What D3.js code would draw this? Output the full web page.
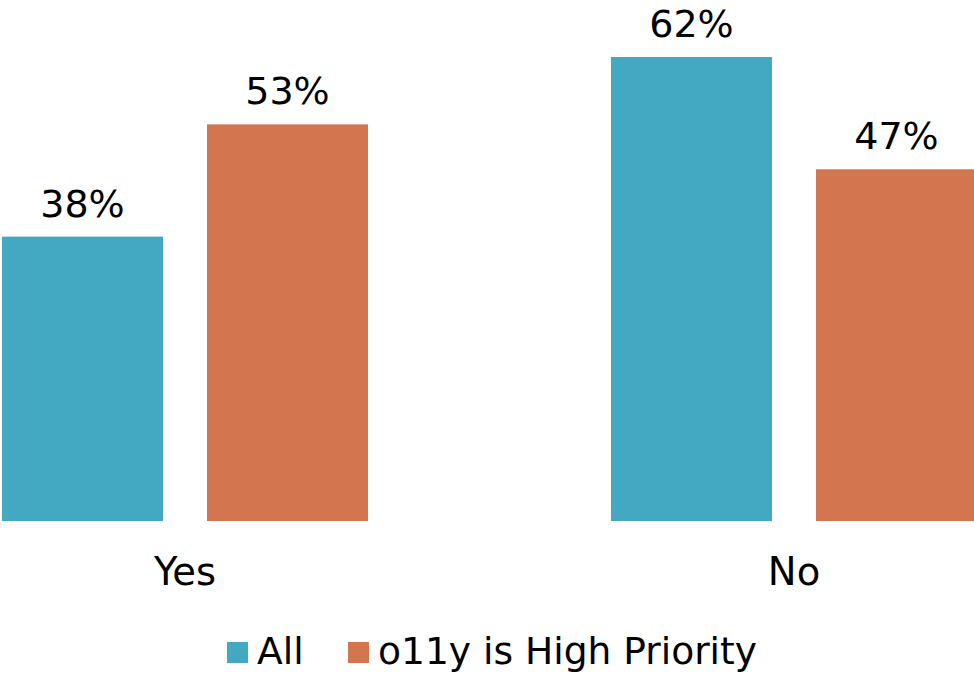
<!DOCTYPE html>
<html>
<head>
<meta charset="utf-8">
<script src="https://cdn.jsdelivr.net/npm/d3@7"></script>
<style>
  html, body { margin: 0; padding: 0; background: #fff; }
  svg { display: block; font-family: "DejaVu Sans", Verdana, sans-serif; }
</style>
</head>
<body>
<svg id="chart" width="974" height="674"></svg>
<script>
// Survey answers, grouped by response
const categories = ["Yes", "No"];
const seriesNames = ["All", "o11y is High Priority"];
const allValues = [38, 62];
const highPriorityValues = [53, 47];
const seriesColors = ["#43a8c2", "#d3754f"];

const rows = categories.map((c, i) => ({
  category: c,
  values: [
    { series: seriesNames[0], value: allValues[i] },
    { series: seriesNames[1], value: highPriorityValues[i] }
  ]
}));

const svg = d3.select("#chart");

const x0 = d3.scaleBand()
  .domain(categories)
  .range([2, 977])
  .paddingInner(243 / 609)
  .paddingOuter(0);

const x1 = d3.scaleBand()
  .domain(seriesNames)
  .range([0, x0.bandwidth()])
  .paddingInner(44 / 205)
  .paddingOuter(0);

const y = d3.scaleLinear()
  .domain([0, 62])
  .range([521, 57]);

const color = d3.scaleOrdinal().domain(seriesNames).range(seriesColors);

const groups = svg.selectAll("g.group")
  .data(rows)
  .join("g")
  .attr("class", "group")
  .attr("transform", d => `translate(${x0(d.category)},0)`);

groups.selectAll("rect")
  .data(d => d.values)
  .join("rect")
  .attr("x", d => x1(d.series))
  .attr("y", d => y(d.value))
  .attr("width", x1.bandwidth())
  .attr("height", d => y(0) - y(d.value))
  .attr("fill", d => color(d.series));

groups.selectAll("text.value")
  .data(d => d.values)
  .join("text")
  .attr("class", "value")
  .attr("x", d => x1(d.series) + x1.bandwidth() / 2)
  .attr("y", d => y(d.value) - 20)
  .attr("text-anchor", "middle")
  .attr("font-size", 38)
  .attr("fill", "#000")
  .text(d => d.value + "%");

// Category axis (labels only)
const xAxis = d3.axisBottom(x0).tickSize(0).tickPadding(0);
const axisG = svg.append("g")
  .attr("transform", "translate(0,521)")
  .call(xAxis);
axisG.select(".domain").remove();
axisG.selectAll("text")
  .attr("font-size", 38.5)
  .attr("font-family", "DejaVu Sans, Verdana, sans-serif")
  .attr("fill", "#000")
  .attr("dy", null)
  .attr("y", 64);

// Legend
const legendItems = [
  { name: seriesNames[0], x: 227 },
  { name: seriesNames[1], x: 348 }
];
const legend = svg.append("g");
const li = legend.selectAll("g")
  .data(legendItems)
  .join("g")
  .attr("transform", d => `translate(${d.x},0)`);
li.append("rect")
  .attr("x", 0)
  .attr("y", 642)
  .attr("width", 21)
  .attr("height", 21)
  .attr("fill", d => color(d.name));
li.append("text")
  .attr("x", 30)
  .attr("y", 664)
  .attr("font-size", 37.6)
  .attr("fill", "#000")
  .text(d => d.name);
</script>
</body>
</html>
